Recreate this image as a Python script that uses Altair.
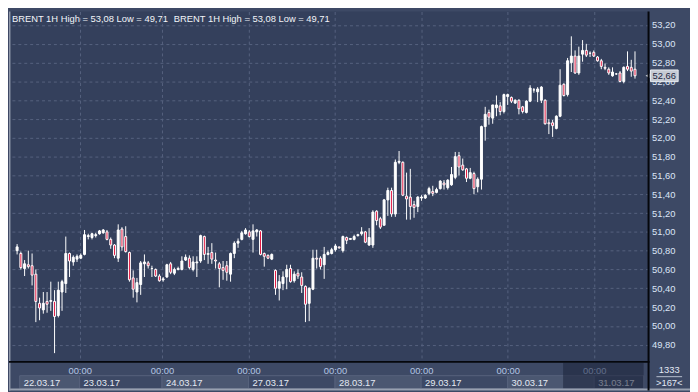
import altair as alt
import pandas as pd

# ---------------- data ----------------
opens = [50.80, 50.77, 50.61, 50.65, 50.64, 50.55, 50.24, 50.17, 50.26, 50.26,
         50.26, 50.11, 50.36, 50.45, 50.77, 50.68, 50.71, 50.72, 50.76, 50.95,
         50.94, 50.96, 50.98, 50.99, 51.00, 50.92, 50.86, 50.72, 51.03, 50.95,
         50.78, 50.51, 50.36, 50.44, 50.66, 50.67, 50.61, 50.60, 50.53, 50.49,
         50.52, 50.66, 50.56, 50.60, 50.60, 50.70, 50.72, 50.60, 50.67, 50.69,
         50.95, 50.77, 50.78, 50.70, 50.66, 50.62, 50.64, 50.55, 50.77, 50.88,
         50.92, 50.98, 51.00, 50.92, 51.00, 51.01, 50.77, 50.75, 50.71, 50.59,
         50.40, 50.45, 50.52, 50.61, 50.48, 50.56, 50.52, 50.42, 50.24, 50.39,
         50.72, 50.72, 50.65, 50.76, 50.77, 50.81, 50.84, 50.80, 50.94, 50.92,
         50.92, 50.96, 50.98, 51.00, 50.86, 50.86, 51.22, 51.14, 51.07, 51.34,
         51.44, 51.19, 51.74, 51.74, 51.38, 51.37, 51.29, 51.27, 51.36, 51.36,
         51.41, 51.43, 51.42, 51.46, 51.52, 51.47, 51.50, 51.58, 51.81, 51.71,
         51.67, 51.57, 51.62, 51.48, 51.56, 52.12, 52.27, 52.21, 52.32, 52.34,
         52.28, 52.44, 52.43, 52.37, 52.40, 52.33, 52.27, 52.39, 52.51, 52.49,
         52.40, 52.40, 52.16, 52.16, 52.10, 52.23, 52.57, 52.46, 52.80, 52.87,
         52.69, 52.89, 52.93, 52.90, 52.91, 52.86, 52.82, 52.75, 52.73, 52.66,
         52.68, 52.69, 52.60, 52.76, 52.75, 52.73]
highs = [50.87, 50.79, 50.70, 50.80, 50.77, 50.60, 50.30, 50.36, 50.36, 50.47,
         50.38, 50.47, 50.49, 50.95, 50.78, 50.75, 50.76, 50.77, 51.02, 50.98,
         50.99, 50.99, 51.02, 51.03, 51.02, 50.94, 50.87, 51.08, 51.05, 51.06,
         50.79, 50.59, 50.51, 50.69, 50.76, 50.69, 50.64, 50.61, 50.55, 50.52,
         50.66, 50.68, 50.62, 50.63, 50.74, 50.76, 50.75, 50.74, 50.74, 50.97,
         50.96, 50.84, 50.88, 50.78, 50.68, 50.69, 50.69, 50.78, 50.90, 50.93,
         51.01, 51.04, 51.02, 51.08, 51.03, 51.02, 50.78, 50.76, 50.77, 50.60,
         50.54, 50.58, 50.65, 50.65, 50.58, 50.60, 50.57, 50.43, 50.41, 50.81,
         50.81, 50.74, 50.84, 50.80, 50.83, 50.87, 50.84, 50.96, 50.95, 50.93,
         50.97, 50.98, 51.05, 51.01, 51.04, 51.23, 51.23, 51.16, 51.35, 51.47,
         51.47, 51.77, 51.86, 51.75, 51.63, 51.67, 51.33, 51.38, 51.39, 51.40,
         51.48, 51.49, 51.47, 51.55, 51.55, 51.56, 51.69, 51.85, 51.85, 51.78,
         51.68, 51.68, 51.64, 51.58, 52.13, 52.33, 52.30, 52.35, 52.45, 52.38,
         52.47, 52.47, 52.44, 52.41, 52.41, 52.34, 52.40, 52.56, 52.53, 52.54,
         52.55, 52.41, 52.20, 52.19, 52.24, 52.73, 52.58, 52.85, 53.08, 52.93,
         52.97, 53.04, 53.00, 52.92, 52.93, 52.87, 52.84, 52.79, 52.75, 52.75,
         52.69, 52.71, 52.76, 52.92, 52.83, 52.92]
lows = [50.76, 50.60, 50.53, 50.61, 50.43, 50.04, 50.06, 50.13, 50.14, 50.16,
        49.71, 50.09, 50.16, 50.35, 50.52, 50.64, 50.68, 50.71, 50.75, 50.92,
        50.92, 50.94, 50.97, 50.98, 50.91, 50.82, 50.72, 50.68, 50.80, 50.78,
        50.47, 50.30, 50.25, 50.33, 50.52, 50.61, 50.52, 50.52, 50.47, 50.47,
        50.51, 50.55, 50.54, 50.59, 50.59, 50.69, 50.60, 50.58, 50.52, 50.67,
        50.70, 50.66, 50.66, 50.61, 50.41, 50.49, 50.48, 50.47, 50.72, 50.83,
        50.91, 50.97, 50.94, 50.78, 50.95, 50.75, 50.63, 50.71, 50.70, 50.33,
        50.27, 50.38, 50.39, 50.46, 50.46, 50.50, 50.35, 50.04, 50.05, 50.38,
        50.61, 50.60, 50.50, 50.75, 50.76, 50.79, 50.82, 50.78, 50.87, 50.92,
        50.91, 50.95, 50.96, 50.88, 50.85, 50.83, 51.07, 51.03, 51.07, 51.17,
        51.16, 51.16, 51.72, 51.38, 51.13, 51.13, 51.15, 51.21, 51.33, 51.35,
        51.39, 51.38, 51.41, 51.45, 51.45, 51.45, 51.49, 51.56, 51.60, 51.65,
        51.53, 51.56, 51.40, 51.42, 51.45, 51.97, 52.14, 52.15, 52.23, 52.24,
        52.26, 52.35, 52.37, 52.36, 52.25, 52.26, 52.26, 52.38, 52.48, 52.38,
        52.37, 52.14, 52.04, 52.01, 52.09, 52.22, 52.44, 52.44, 52.70, 52.68,
        52.67, 52.81, 52.86, 52.86, 52.86, 52.81, 52.73, 52.72, 52.67, 52.65,
        52.67, 52.59, 52.58, 52.71, 52.65, 52.63]
closes = [50.84, 50.62, 50.66, 50.63, 50.54, 50.26, 50.19, 50.24, 50.23, 50.27,
          50.10, 50.38, 50.47, 50.77, 50.69, 50.73, 50.74, 50.75, 50.97, 50.96,
          50.98, 50.97, 51.01, 51.02, 50.92, 50.86, 50.75, 51.02, 50.84, 50.79,
          50.49, 50.39, 50.46, 50.67, 50.68, 50.64, 50.61, 50.53, 50.48, 50.50,
          50.65, 50.57, 50.60, 50.61, 50.69, 50.73, 50.62, 50.68, 50.68, 50.96,
          50.76, 50.76, 50.71, 50.69, 50.61, 50.59, 50.57, 50.77, 50.88, 50.90,
          50.99, 51.02, 50.95, 51.01, 51.02, 50.76, 50.74, 50.72, 50.76, 50.40,
          50.47, 50.52, 50.60, 50.47, 50.55, 50.53, 50.43, 50.23, 50.40, 50.72,
          50.71, 50.63, 50.76, 50.78, 50.81, 50.85, 50.83, 50.95, 50.91, 50.93,
          50.95, 50.97, 51.00, 50.89, 50.94, 51.21, 51.12, 51.05, 51.34, 51.44,
          51.19, 51.74, 51.75, 51.39, 51.35, 51.27, 51.26, 51.37, 51.37, 51.39,
          51.46, 51.41, 51.45, 51.54, 51.50, 51.55, 51.61, 51.80, 51.69, 51.66,
          51.57, 51.63, 51.46, 51.56, 52.12, 52.25, 52.22, 52.35, 52.35, 52.28,
          52.46, 52.46, 52.39, 52.40, 52.31, 52.28, 52.39, 52.53, 52.51, 52.52,
          52.54, 52.15, 52.15, 52.13, 52.23, 52.56, 52.45, 52.82, 52.87, 52.69,
          52.87, 52.93, 52.88, 52.90, 52.87, 52.82, 52.76, 52.74, 52.69, 52.70,
          52.68, 52.60, 52.75, 52.73, 52.71, 52.66]

day_labels = ["22.03.17", "23.03.17", "24.03.17", "27.03.17",
              "28.03.17", "29.03.17", "30.03.17", "31.03.17"]
day_start = [0.7, 16.7, 38.7, 61.8, 84.9, 107.9, 131.0, 154.1]
day_end = [16.7, 38.7, 61.8, 84.9, 107.9, 131.0, 154.1, 167.3]
day_shade = [1, 0, 1, 0, 1, 0, 1, 0]
midnight_ticks = [16.7, 38.7, 61.8, 84.9, 107.9, 131.0, 154.1]
y_ticks = [49.8, 50.0, 50.2, 50.4, 50.6, 50.8, 51.0, 51.2, 51.4, 51.6,
           51.8, 52.0, 52.2, 52.4, 52.6, 52.8, 53.0, 53.2]
scroll_from = [145.8]
scroll_to = [167.3]
title_text = "BRENT 1H High = 53,08 Low = 49,71"
last_price = [52.66]
last_label = ["52,66"]
info_top = ["1333"]
info_bottom = [">167<"]

# ---------------- layout / style ----------------
PW, PH = 648, 355      # plot area
RP, BP = 42, 29        # right / bottom panels
X_DOM = [-0.85, 167.3]
Y_DOM = [49.617, 53.344]
FONT = "Liberation Sans"
FS = 9.5
PLOT_BG = "#34405c"
PANEL_BG = "#3d4965"
GRID = "#56627f"
RED = "#e3163f"

xs = alt.Scale(domain=X_DOM, nice=False, zero=False)
ys = alt.Scale(domain=Y_DOM, nice=False, zero=False)

AX = alt.Axis(values=midnight_ticks, labelExpr="'00:00'", title=None,
              domain=False, ticks=False, labelPadding=4,
              labelColor="#b3c5e3", labelFont=FONT, labelFontSize=FS,
              labelAlign="center", labelBaseline="top", labelFlush=False,
              labelOverlap=False, grid=True, gridColor=GRID,
              gridDash=[3, 3], gridWidth=1, minExtent=BP, maxExtent=BP)
AY = alt.Axis(orient="right", values=y_ticks, format=".2f", title=None,
              labelExpr="replace(datum.label, '.', ',')",
              domain=False, ticks=False, labelPadding=3,
              labelColor="#dbe4f6", labelFont=FONT, labelFontSize=FS,
              labelAlign="left", labelBaseline="middle", labelFlush=False,
              labelOverlap=False, grid=True, gridColor=GRID,
              gridDash=[3, 3], gridWidth=1, minExtent=RP, maxExtent=RP)


def X(f):
    return alt.X(f, scale=xs, axis=AX)


def Y(f):
    return alt.Y(f, scale=ys, axis=AY)


df = pd.DataFrame({"i": list(range(len(opens))), "o": opens, "h": highs,
                   "l": lows, "c": closes})
days = pd.DataFrame({"s": day_start, "e": day_end, "lab": day_labels,
                     "shade": day_shade})
one = pd.DataFrame({"k": [0]})

wicks = alt.Chart(df).mark_rule(color="white", strokeWidth=1).encode(
    x=X("i:Q"), y=Y("l:Q"), y2="h:Q")

bodies = alt.Chart(df).mark_bar(size=2, stroke="white", strokeWidth=1).encode(
    x=X("i:Q"), y=Y("o:Q"), y2="c:Q",
    fill=alt.condition("datum.c >= datum.o", alt.value("white"), alt.value(RED)),
)

title1 = alt.Chart(one).mark_text(
    text=title_text, align="left", baseline="middle", font=FONT,
    fontSize=FS, color="#f2f4f8").encode(x=alt.value(3), y=alt.value(8))
title2 = alt.Chart(one).mark_text(
    text=title_text, align="left", baseline="middle", font=FONT,
    fontSize=FS, color="#f2f4f8").encode(x=alt.value(167), y=alt.value(8))

tag_df = pd.DataFrame({"p": last_price, "lab": last_label})
tag_box = alt.Chart(tag_df).transform_calculate(
    pt="datum.p + 0.062", pb="datum.p - 0.062").mark_rect(
    fill="#c6cbd4", stroke="#e9ecf1", strokeWidth=1).encode(
    x=alt.value(PW + 2), x2=alt.value(PW + 30), y=Y("pt:Q"), y2="pb:Q")
tag_arrow = alt.Chart(tag_df).mark_point(
    shape="triangle-left", filled=True, size=22, color="#d8dce3",
    opacity=1).encode(x=alt.value(PW - 1), y=Y("p:Q"))
tag_text = alt.Chart(tag_df).mark_text(
    align="left", baseline="middle", font=FONT, fontSize=FS,
    color="#1e2842").encode(x=alt.value(PW + 4), y=Y("p:Q"), text="lab:N")

day_boxes = alt.Chart(days).mark_rect(stroke="#56627c", strokeWidth=1).encode(
    x=X("s:Q"), x2="e:Q",
    y=alt.value(PH + 14), y2=alt.value(PH + 27),
    fill=alt.condition("datum.shade == 1", alt.value("#4b5771"),
                       alt.value(PANEL_BG)),
)
day_text = alt.Chart(days).mark_text(
    align="left", baseline="middle", dx=4, font=FONT, fontSize=FS,
    color="#e4e9f3").encode(x=X("s:Q"), y=alt.value(PH + 21), text="lab:N")

scroll = alt.Chart(pd.DataFrame({"a": scroll_from, "b": scroll_to})).mark_rect(
    fill="#1b233a", opacity=0.55).encode(
    x=X("a:Q"), x2="b:Q", y=alt.value(PH + 1), y2=alt.value(PH + 27))

bottom_border = alt.Chart(one).mark_rect(fill="#98a0b0").encode(
    x=alt.value(0), x2=alt.value(PW + RP), y=alt.value(PH + 27),
    y2=alt.value(PH + BP))
left_border = alt.Chart(one).mark_rule(color="#9098aa", strokeWidth=1.5).encode(
    x=alt.value(0.75), y=alt.value(0), y2=alt.value(PH + BP))
sep_v = alt.Chart(one).mark_rule(color="#05070c", strokeWidth=2).encode(
    x=alt.value(PW), y=alt.value(0), y2=alt.value(PH + BP))
sep_h = alt.Chart(one).mark_rule(color="#05070c", strokeWidth=2).encode(
    x=alt.value(0), x2=alt.value(PW + 1), y=alt.value(PH))

info1 = alt.Chart(pd.DataFrame({"t": info_top})).mark_text(
    align="center", baseline="middle", font=FONT, fontSize=FS,
    color="#e2e8f3").encode(x=alt.value(PW + 21), y=alt.value(PH + 8), text="t:N")
info_line = alt.Chart(one).mark_rule(color="#b8c0cf", strokeWidth=1).encode(
    x=alt.value(PW + 8), x2=alt.value(PW + 34), y=alt.value(PH + 15))
info2 = alt.Chart(pd.DataFrame({"t": info_bottom})).mark_text(
    align="center", baseline="middle", font=FONT, fontSize=FS,
    color="#e2e8f3").encode(x=alt.value(PW + 21), y=alt.value(PH + 21), text="t:N")

chart = alt.layer(
    wicks, bodies, title1, title2, tag_box, tag_arrow, tag_text,
    day_boxes, day_text, scroll, bottom_border, left_border, sep_v, sep_h,
    info1, info_line, info2,
).properties(
    width=PW, height=PH, padding=0, background=PANEL_BG,
).configure_view(
    fill=PLOT_BG, stroke=None,
)

chart.save("out.html", embed_options={"renderer": "svg", "actions": False})
